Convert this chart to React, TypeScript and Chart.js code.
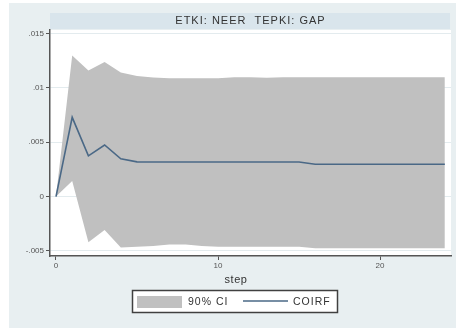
import React, { useEffect, useRef } from "react";
import { Chart, registerables } from "chart.js";

Chart.register(...registerables);

// ---- data ----
const steps = [0, 1, 2, 3, 4, 5, 6, 7, 8, 9, 10, 11, 12, 13, 14, 15, 16, 17, 18, 19, 20, 21, 22, 23, 24];

const ciUpper = [
  0, 0.0130, 0.01162, 0.0124, 0.01143, 0.0111, 0.01097, 0.0109, 0.0109, 0.0109,
  0.0109, 0.0110, 0.0110, 0.01095, 0.0110, 0.0110, 0.0110, 0.0110, 0.0110, 0.0110,
  0.0110, 0.0110, 0.0110, 0.0110, 0.0110,
];

const ciLower = [
  0, 0.00144, -0.00421, -0.00308, -0.00469, -0.00461, -0.00455, -0.0044, -0.0044, -0.00455,
  -0.00461, -0.00461, -0.00461, -0.00461, -0.00461, -0.00461, -0.00476, -0.00476, -0.00476, -0.00476,
  -0.00476, -0.00476, -0.00476, -0.00476, -0.00476,
];

const coirf = [
  0, 0.0073, 0.00375, 0.00475, 0.00348, 0.0032, 0.00318, 0.00318, 0.00318, 0.00318,
  0.00318, 0.00318, 0.00318, 0.00318, 0.00318, 0.00318, 0.00298, 0.00298, 0.00298, 0.00298,
  0.00298, 0.00298, 0.00298, 0.00298, 0.00298,
];

const yTicks = [-0.005, 0, 0.005, 0.01, 0.015];
const yTickLabels = ["-.005", "0", ".005", ".01", ".015"];
const xTicks = [0, 10, 20];
const xTickLabels = ["0", "10", "20"];

const titleText = "ETKI: NEER  TEPKI: GAP";
const xTitleText = "step";
const ciLabel = "90% CI";
const lineLabel = "COIRF";

const W = 456;
const H = 329;
const FONT = "'Liberation Sans', Arial, sans-serif";

export default function App() {
  const ref = useRef<HTMLCanvasElement | null>(null);

  useEffect(() => {
    const canvas = ref.current;
    if (!canvas) return;

    const stataPlugin = {
      id: "stataDecor",
      beforeDraw(chart: any) {
        const ctx = chart.ctx as CanvasRenderingContext2D;
        const a = chart.chartArea;
        ctx.save();
        ctx.fillStyle = "#ffffff";
        ctx.fillRect(0, 0, W, H);
        ctx.fillStyle = "#e8eff1";
        ctx.fillRect(9, 3, W - 9, H - 4);
        // plot region
        ctx.fillStyle = "#ffffff";
        ctx.fillRect(a.left, a.top, a.right - a.left, a.bottom - a.top);
        // title band
        ctx.fillStyle = "#d9e5ec";
        ctx.fillRect(a.left, a.top - 17, a.right - a.left - 1, 16);
        ctx.fillStyle = "#333333";
        ctx.font = `11px ${FONT}`;
        (ctx as any).letterSpacing = "1px";
        ctx.textAlign = "center";
        ctx.textBaseline = "middle";
        ctx.fillText(titleText, (a.left + a.right) / 2, a.top - 9);
        ctx.restore();
      },
      afterDraw(chart: any) {
        const ctx = chart.ctx as CanvasRenderingContext2D;
        const ds = chart.data.datasets;
        ctx.save();
        // x-axis title
        ctx.fillStyle = "#333333";
        ctx.font = `11px ${FONT}`;
        (ctx as any).letterSpacing = "0.5px";
        ctx.textAlign = "center";
        ctx.textBaseline = "middle";
        ctx.fillText(xTitleText, 236, 280);

        // legend box
        ctx.fillStyle = "#ffffff";
        ctx.fillRect(132, 290, 206, 23);
        ctx.strokeStyle = "#404040";
        ctx.lineWidth = 1.5;
        ctx.strokeRect(132.5, 290.5, 205, 22);

        const ci = ds[1];
        const ln = ds[2];
        ctx.fillStyle = ci.backgroundColor;
        ctx.fillRect(137, 296, 45, 12);
        ctx.strokeStyle = ln.borderColor;
        ctx.lineWidth = 1.5;
        ctx.beginPath();
        ctx.moveTo(243, 301);
        ctx.lineTo(288, 301);
        ctx.stroke();

        ctx.fillStyle = "#333333";
        ctx.font = `10.5px ${FONT}`;
        (ctx as any).letterSpacing = "1px";
        ctx.textAlign = "left";
        ctx.fillText(ci.label, 188, 302);
        ctx.fillText(ln.label, 293, 302);
        ctx.restore();
      },
    };

    const chart = new Chart(canvas, {
      type: "line",
      data: {
        datasets: [
          {
            label: "lower",
            data: steps.map((s, i) => ({ x: s, y: ciLower[i] })),
            borderWidth: 0,
            pointRadius: 0,
            fill: false,
            order: 1,
          },
          {
            label: ciLabel,
            data: steps.map((s, i) => ({ x: s, y: ciUpper[i] })),
            borderWidth: 0,
            pointRadius: 0,
            backgroundColor: "#c0c0c0",
            fill: 0 as any,
            order: 1,
          },
          {
            label: lineLabel,
            data: steps.map((s, i) => ({ x: s, y: coirf[i] })),
            borderColor: "#4a6886",
            borderWidth: 1.6,
            pointRadius: 0,
            fill: false,
            tension: 0,
            order: -1,
          },
        ],
      },
      options: {
        responsive: false,
        animation: false,
        devicePixelRatio: 1,
        layout: { padding: { left: 0, right: 5, top: 30, bottom: 53 } },
        plugins: {
          legend: { display: false },
          title: { display: false },
          tooltip: { enabled: false },
          filler: { propagate: false },
        },
        scales: {
          x: {
            type: "linear",
            min: -0.37,
            max: 24.38,
            afterBuildTicks: (axis: any) => {
              axis.ticks = xTicks.map((v) => ({ value: v }));
            },
            afterFit: (axis: any) => {
              axis.height = 20;
            },
            grid: {
              drawOnChartArea: false,
              drawTicks: true,
              tickLength: 4,
              tickColor: "#555555",
              tickWidth: 1,
            },
            border: { display: true, color: "#555555", width: 1.5 },
            ticks: {
              autoSkip: false,
              maxRotation: 0,
              padding: 1,
              color: "#555555",
              font: { size: 8, family: FONT },
              callback: (v: any) => {
                const i = xTicks.indexOf(Number(v));
                return i >= 0 ? xTickLabels[i] : "";
              },
            },
          },
          y: {
            type: "linear",
            min: -0.00547,
            max: 0.01534,
            afterBuildTicks: (axis: any) => {
              axis.ticks = yTicks.map((v) => ({ value: v }));
            },
            afterFit: (axis: any) => {
              axis.width = 50;
            },
            grid: {
              color: "#e3ebee",
              tickColor: "#555555",
              tickLength: 4,
              drawTicks: true,
            },
            border: { display: true, color: "#555555", width: 1.5 },
            ticks: {
              autoSkip: false,
              padding: 2,
              color: "#555555",
              font: { size: 8, family: FONT },
              callback: (v: any) => {
                const i = yTicks.findIndex((t) => Math.abs(t - Number(v)) < 1e-9);
                return i >= 0 ? yTickLabels[i] : "";
              },
            },
          },
        },
      },
      plugins: [stataPlugin],
    } as any);

    return () => chart.destroy();
  }, []);

  return (
    <div style={{ position: "absolute", left: 0, top: 0, width: W, height: H }}>
      <canvas ref={ref} width={W} height={H} style={{ width: W, height: H, display: "block" }} />
    </div>
  );
}
